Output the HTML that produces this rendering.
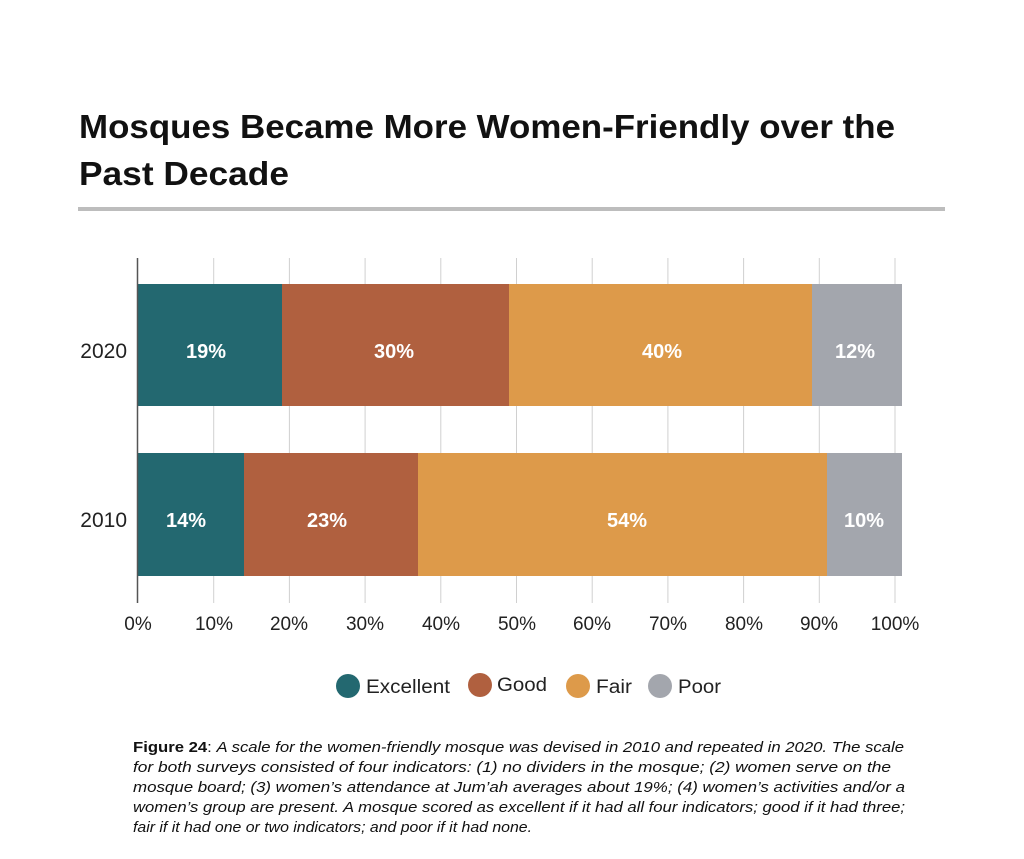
<!DOCTYPE html>
<html><head><meta charset="utf-8"><style>
html,body{margin:0;padding:0;background:#fff;}
svg{display:block;}
text{font-family:"Liberation Sans",sans-serif;}
</style></head><body>
<svg width="1024" height="859" viewBox="0 0 1024 859" xmlns="http://www.w3.org/2000/svg">
<rect width="1024" height="859" fill="#fff"/>
<text x="79" y="138" font-size="33" font-weight="bold" fill="#111" textLength="816" lengthAdjust="spacingAndGlyphs">Mosques Became More Women-Friendly over the</text>
<text x="79" y="185" font-size="33" font-weight="bold" fill="#111" textLength="210" lengthAdjust="spacingAndGlyphs">Past Decade</text>
<rect x="78" y="207" width="867" height="4" fill="#bdbdbd"/>
<g stroke="#d0d0d0" stroke-width="1">
<line x1="213.7" y1="258" x2="213.7" y2="603"/><line x1="289.4" y1="258" x2="289.4" y2="603"/>
<line x1="365.1" y1="258" x2="365.1" y2="603"/><line x1="440.8" y1="258" x2="440.8" y2="603"/>
<line x1="516.5" y1="258" x2="516.5" y2="603"/><line x1="592.2" y1="258" x2="592.2" y2="603"/>
<line x1="667.9" y1="258" x2="667.9" y2="603"/><line x1="743.6" y1="258" x2="743.6" y2="603"/>
<line x1="819.3" y1="258" x2="819.3" y2="603"/><line x1="895" y1="258" x2="895" y2="603"/>
</g>
<rect x="138" y="284" width="144" height="122" fill="#236870"/>
<rect x="282" y="284" width="227" height="122" fill="#b0603f"/>
<rect x="509" y="284" width="303" height="122" fill="#dd9a4a"/>
<rect x="812" y="284" width="90" height="122" fill="#a3a6ad"/>
<rect x="138" y="453" width="106" height="123" fill="#236870"/>
<rect x="244" y="453" width="174" height="123" fill="#b0603f"/>
<rect x="418" y="453" width="409" height="123" fill="#dd9a4a"/>
<rect x="827" y="453" width="75" height="123" fill="#a3a6ad"/>
<line x1="137.5" y1="258" x2="137.5" y2="603" stroke="#555" stroke-width="1.5"/>
<g font-size="20" font-weight="bold" fill="#fff" text-anchor="middle">
<text x="206" y="358">19%</text><text x="394" y="358">30%</text><text x="662" y="358">40%</text><text x="855" y="358">12%</text>
<text x="186" y="527">14%</text><text x="327" y="527">23%</text><text x="627" y="527">54%</text><text x="864" y="527">10%</text>
</g>
<g font-size="21" fill="#222" text-anchor="end">
<text x="127" y="358">2020</text><text x="127" y="527">2010</text>
</g>
<g font-size="19" fill="#222" text-anchor="middle">
<text x="138" y="630">0%</text><text x="214" y="630">10%</text><text x="289" y="630">20%</text>
<text x="365" y="630">30%</text><text x="441" y="630">40%</text><text x="517" y="630">50%</text>
<text x="592" y="630">60%</text><text x="668" y="630">70%</text><text x="744" y="630">80%</text>
<text x="819" y="630">90%</text><text x="895" y="630">100%</text>
</g>
<circle cx="348" cy="686" r="12" fill="#236870"/>
<circle cx="480" cy="685" r="12" fill="#b0603f"/>
<circle cx="578" cy="686" r="12" fill="#dd9a4a"/>
<circle cx="660" cy="686" r="12" fill="#a3a6ad"/>
<g font-size="19" fill="#222">
<text x="366" y="693" textLength="84" lengthAdjust="spacingAndGlyphs">Excellent</text>
<text x="497" y="691" textLength="50" lengthAdjust="spacingAndGlyphs">Good</text>
<text x="596" y="693" textLength="36" lengthAdjust="spacingAndGlyphs">Fair</text>
<text x="678" y="693" textLength="43" lengthAdjust="spacingAndGlyphs">Poor</text>
</g>
<g font-size="15" fill="#111">
<text x="133" y="752" textLength="771" lengthAdjust="spacingAndGlyphs"><tspan font-weight="bold">Figure 24</tspan><tspan>: </tspan><tspan font-style="italic">A scale for the women-friendly mosque was devised in 2010 and repeated in 2020. The scale</tspan></text>
<text x="133" y="772" font-style="italic" textLength="758" lengthAdjust="spacingAndGlyphs">for both surveys consisted of four indicators: (1) no dividers in the mosque; (2) women serve on the</text>
<text x="133" y="792" font-style="italic" textLength="772" lengthAdjust="spacingAndGlyphs">mosque board; (3) women’s attendance at Jum’ah averages about 19%; (4) women’s activities and/or a</text>
<text x="133" y="812" font-style="italic" textLength="772" lengthAdjust="spacingAndGlyphs">women’s group are present. A mosque scored as excellent if it had all four indicators; good if it had three;</text>
<text x="133" y="832" font-style="italic" textLength="399" lengthAdjust="spacingAndGlyphs">fair if it had one or two indicators; and poor if it had none.</text>
</g>
</svg>
</body></html>
